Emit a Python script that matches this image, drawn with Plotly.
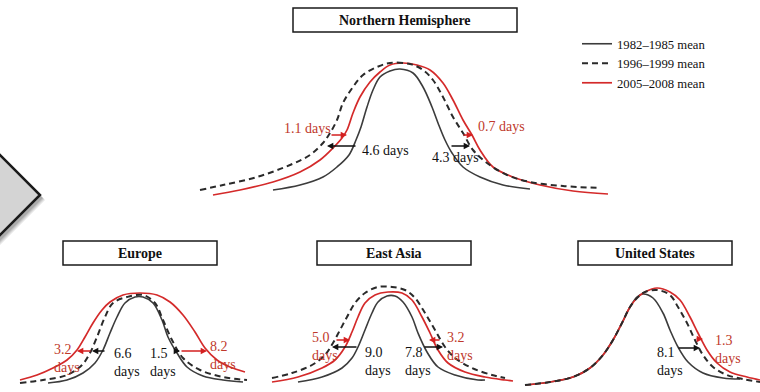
import plotly.graph_objects as go

# ---------------- data (canvas units) ----------------
PERIODS = ["1982–1985 mean", "1996–1999 mean", "2005–2008 mean"]

# Northern Hemisphere
nh_8285_x = [273, 300, 323, 337, 349, 356, 361, 367, 373, 380, 390, 400, 413, 423, 432, 438, 445, 452, 463, 480, 503, 530]
nh_8285_y = [190, 185, 177, 167, 155, 140, 127, 107, 90, 77, 71, 69, 73, 87, 107, 123, 140, 153, 167, 177, 185, 189]
nh_9699_x = [200, 223, 257, 290, 310, 323, 330, 337, 343, 353, 363, 377, 390, 410, 423, 433, 443, 453, 463, 473, 487, 507, 530, 563, 600]
nh_9699_y = [190, 185, 177, 165, 155, 143, 133, 120, 103, 87, 75, 67, 63, 64, 70, 80, 97, 117, 133, 150, 163, 175, 182, 186, 188]
nh_0508_x = [213, 240, 273, 300, 320, 333, 342, 347, 353, 360, 370, 380, 390, 403, 417, 430, 443, 453, 463, 472, 480, 493, 513, 540, 573, 608]
nh_0508_y = [195, 190, 182, 172, 160, 148, 138, 130, 113, 97, 82, 72, 65, 63, 65, 70, 83, 100, 120, 135, 150, 167, 177, 185, 191, 194]

# Europe
eu_8285_x = [48, 67, 83, 95, 103, 110, 117, 125, 135, 143, 153, 162, 168, 177, 187, 203, 223, 243]
eu_8285_y = [383, 380, 373, 363, 350, 333, 317, 303, 297, 297, 303, 320, 337, 353, 367, 376, 380, 382]
eu_9699_x = [20, 43, 67, 82, 90, 97, 105, 113, 127, 143, 155, 163, 172, 183, 200, 223, 247]
eu_9699_y = [383, 380, 375, 365, 353, 337, 317, 303, 297, 295, 303, 320, 340, 358, 370, 377, 380]
eu_0508_x = [20, 37, 53, 67, 77, 85, 93, 102, 110, 123, 140, 157, 170, 183, 195, 205, 217, 230, 245]
eu_0508_y = [380, 375, 368, 360, 350, 337, 323, 310, 302, 295, 293, 295, 302, 315, 332, 348, 360, 367, 372]

# East Asia
ea_8285_x = [298, 322, 342, 352, 358, 365, 372, 378, 387, 395, 403, 412, 418, 427, 438, 455, 478, 485]
ea_8285_y = [382, 377, 368, 358, 347, 330, 313, 302, 296, 296, 302, 317, 333, 352, 367, 375, 380, 380]
ea_9699_x = [272, 292, 312, 325, 333, 340, 347, 355, 365, 378, 392, 405, 415, 425, 435, 445, 455, 472, 492, 505]
ea_9699_y = [378, 373, 365, 355, 343, 330, 317, 303, 293, 287, 287, 290, 298, 313, 330, 347, 358, 368, 375, 378]
ea_0508_x = [272, 298, 322, 335, 345, 352, 358, 365, 375, 388, 402, 412, 422, 430, 438, 448, 465, 485, 505, 513]
ea_0508_y = [382, 377, 368, 360, 347, 332, 317, 303, 295, 292, 293, 300, 317, 333, 350, 363, 372, 377, 380, 381]

# United States
us_8285_x = [525, 550, 573, 590, 603, 613, 622, 630, 637, 643, 653, 663, 670, 678, 688, 703, 723, 740]
us_8285_y = [385, 382, 377, 368, 355, 340, 323, 307, 297, 294, 298, 313, 330, 347, 362, 373, 378, 379]
us_9699_x = [525, 550, 573, 590, 603, 613, 622, 630, 638, 645, 657, 670, 678, 687, 695, 703, 713, 727, 743, 760]
us_9699_y = [385, 382, 377, 368, 355, 340, 323, 307, 297, 292, 290, 295, 307, 323, 340, 355, 367, 375, 379, 382]
us_0508_x = [525, 550, 573, 590, 603, 613, 622, 630, 638, 645, 657, 670, 680, 690, 698, 707, 717, 730, 747, 760]
us_0508_y = [385, 382, 377, 368, 355, 340, 323, 307, 297, 292, 288, 292, 300, 317, 333, 350, 363, 372, 377, 380]

# Region title boxes: name, x0, x1, y0, y1
box_names = ["Northern Hemisphere", "Europe", "East Asia", "United States"]
box_x0 = [293, 63, 317, 578]
box_x1 = [517, 217, 471, 732]
box_y0 = [8, 241, 241, 241]
box_y1 = [32, 265, 265, 265]

# Shift labels: text, x (left edge), y (centre), period index (0 black, 2 red)
label_text = ["1.1 days", "4.6 days", "4.3 days", "0.7 days",
              "3.2<br>days", "6.6<br>days", "1.5<br>days", "8.2<br>days",
              "5.0<br>days", "9.0<br>days", "7.8<br>days", "3.2<br>days",
              "8.1<br>days", "1.3<br>days"]
label_x = [282, 360, 430, 476, 52, 112, 148, 208, 310, 363, 403, 445, 655, 713]
label_y = [128, 150, 157, 126, 358, 362, 362, 355, 346, 361, 361, 346, 361, 349]
label_kind = [2, 0, 0, 2, 2, 0, 0, 2, 2, 0, 0, 2, 0, 2]

# Shift arrows: tail x, head x, y, kind
arrow_tail = [330, 357, 450, 462, 106, 92, 174, 180, 335, 358, 423, 441, 677, 695]
arrow_head = [347, 327, 470, 473, 92, 77, 180, 207, 350, 332, 443, 429, 700, 703]
arrow_y = [135, 146, 146, 135, 351, 351, 351, 351, 340, 347, 347, 340, 348, 339]
arrow_kind = [2, 0, 0, 2, 0, 2, 0, 2, 2, 0, 0, 2, 0, 2]

# Decorative chevron at left edge
chev_x = [-25, 40, -25]
chev_y = [130, 195, 260]

# ---------------- styling ----------------
FONT = "Liberation Serif, Times New Roman, serif"
BLACK = "#3c3c3c"
RED = "#d42a2a"
TEXT_RED = "#c0392b"
kind_color = {0: "#111111", 2: TEXT_RED}
arrow_color = {0: "#111111", 2: "#d42020"}

fig = go.Figure()

# chevron with soft shadow
for off, alpha in [(5, 0.10), (4, 0.12), (3, 0.15)]:
    fig.add_trace(go.Scatter(x=[v + off for v in chev_x], y=[v + off for v in chev_y],
                             mode="lines", fill="toself", fillcolor=f"rgba(0,0,0,{alpha})",
                             line=dict(width=0), hoverinfo="skip", showlegend=False))
fig.add_trace(go.Scatter(x=chev_x, y=chev_y, mode="lines", fill="toself", fillcolor="#d4d4d4",
                         line=dict(color="#1a1a1a", width=2.5), hoverinfo="skip", showlegend=False))

regions = [
    (nh_8285_x, nh_8285_y, nh_9699_x, nh_9699_y, nh_0508_x, nh_0508_y),
    (eu_8285_x, eu_8285_y, eu_9699_x, eu_9699_y, eu_0508_x, eu_0508_y),
    (ea_8285_x, ea_8285_y, ea_9699_x, ea_9699_y, ea_0508_x, ea_0508_y),
    (us_8285_x, us_8285_y, us_9699_x, us_9699_y, us_0508_x, us_0508_y),
]
styles = {
    0: dict(color=BLACK, width=1.6, dash="solid"),
    1: dict(color="#2a2a2a", width=2.0, dash="6px,4px"),
    2: dict(color=RED, width=1.7, dash="solid"),
}
draw_order = [0, 2, 1]
rank = {0: 1, 1: 2, 2: 3}
for ri, reg in enumerate(regions):
    for p in draw_order:
        xs, ys = reg[2 * p], reg[2 * p + 1]
        fig.add_trace(go.Scatter(
            x=xs, y=ys, mode="lines", name=PERIODS[p],
            line=dict(shape="spline", smoothing=1.0, **styles[p]),
            showlegend=(ri == 0), legendrank=rank[p], hoverinfo="skip"))

shapes = []
annotations = []
for name, x0, x1, y0, y1 in zip(box_names, box_x0, box_x1, box_y0, box_y1):
    shapes.append(dict(type="rect", xref="x", yref="y", x0=x0, x1=x1, y0=y0, y1=y1,
                       line=dict(color="#1a1a1a", width=1.5), fillcolor="white", layer="below"))
    annotations.append(dict(x=(x0 + x1) / 2, y=(y0 + y1) / 2, xref="x", yref="y",
                            text=f"<b>{name}</b>", showarrow=False,
                            font=dict(family=FONT, size=14, color="#111111")))

for t, x, y, k in zip(label_text, label_x, label_y, label_kind):
    annotations.append(dict(x=x, y=y, xref="x", yref="y", text=t, showarrow=False,
                            xanchor="left", yanchor="middle", align="left",
                            font=dict(family=FONT, size=14, color=kind_color[k])))

for xt, xh, y, k in zip(arrow_tail, arrow_head, arrow_y, arrow_kind):
    annotations.append(dict(x=xh, y=y, ax=xt, ay=y, xref="x", yref="y", axref="x", ayref="y",
                            text="", showarrow=True, arrowhead=2, arrowsize=0.9,
                            arrowwidth=1.4, arrowcolor=arrow_color[k]))

fig.update_layout(
    width=760, height=392,
    margin=dict(l=0, r=0, t=0, b=0),
    paper_bgcolor="white", plot_bgcolor="white",
    xaxis=dict(range=[0, 760], visible=False, fixedrange=True),
    yaxis=dict(range=[392, 0], visible=False, fixedrange=True),
    shapes=shapes, annotations=annotations,
    showlegend=True,
    legend=dict(x=577 / 760, y=1 - 29 / 392, xanchor="left", yanchor="top",
                bgcolor="rgba(0,0,0,0)", font=dict(family=FONT, size=12.7, color="#111111"),
                tracegroupgap=0, itemwidth=30),
)

fig.write_html("out.html", config={"displayModeBar": False},
               post_script="document.body.style.margin='0';document.body.style.overflow='hidden';")
